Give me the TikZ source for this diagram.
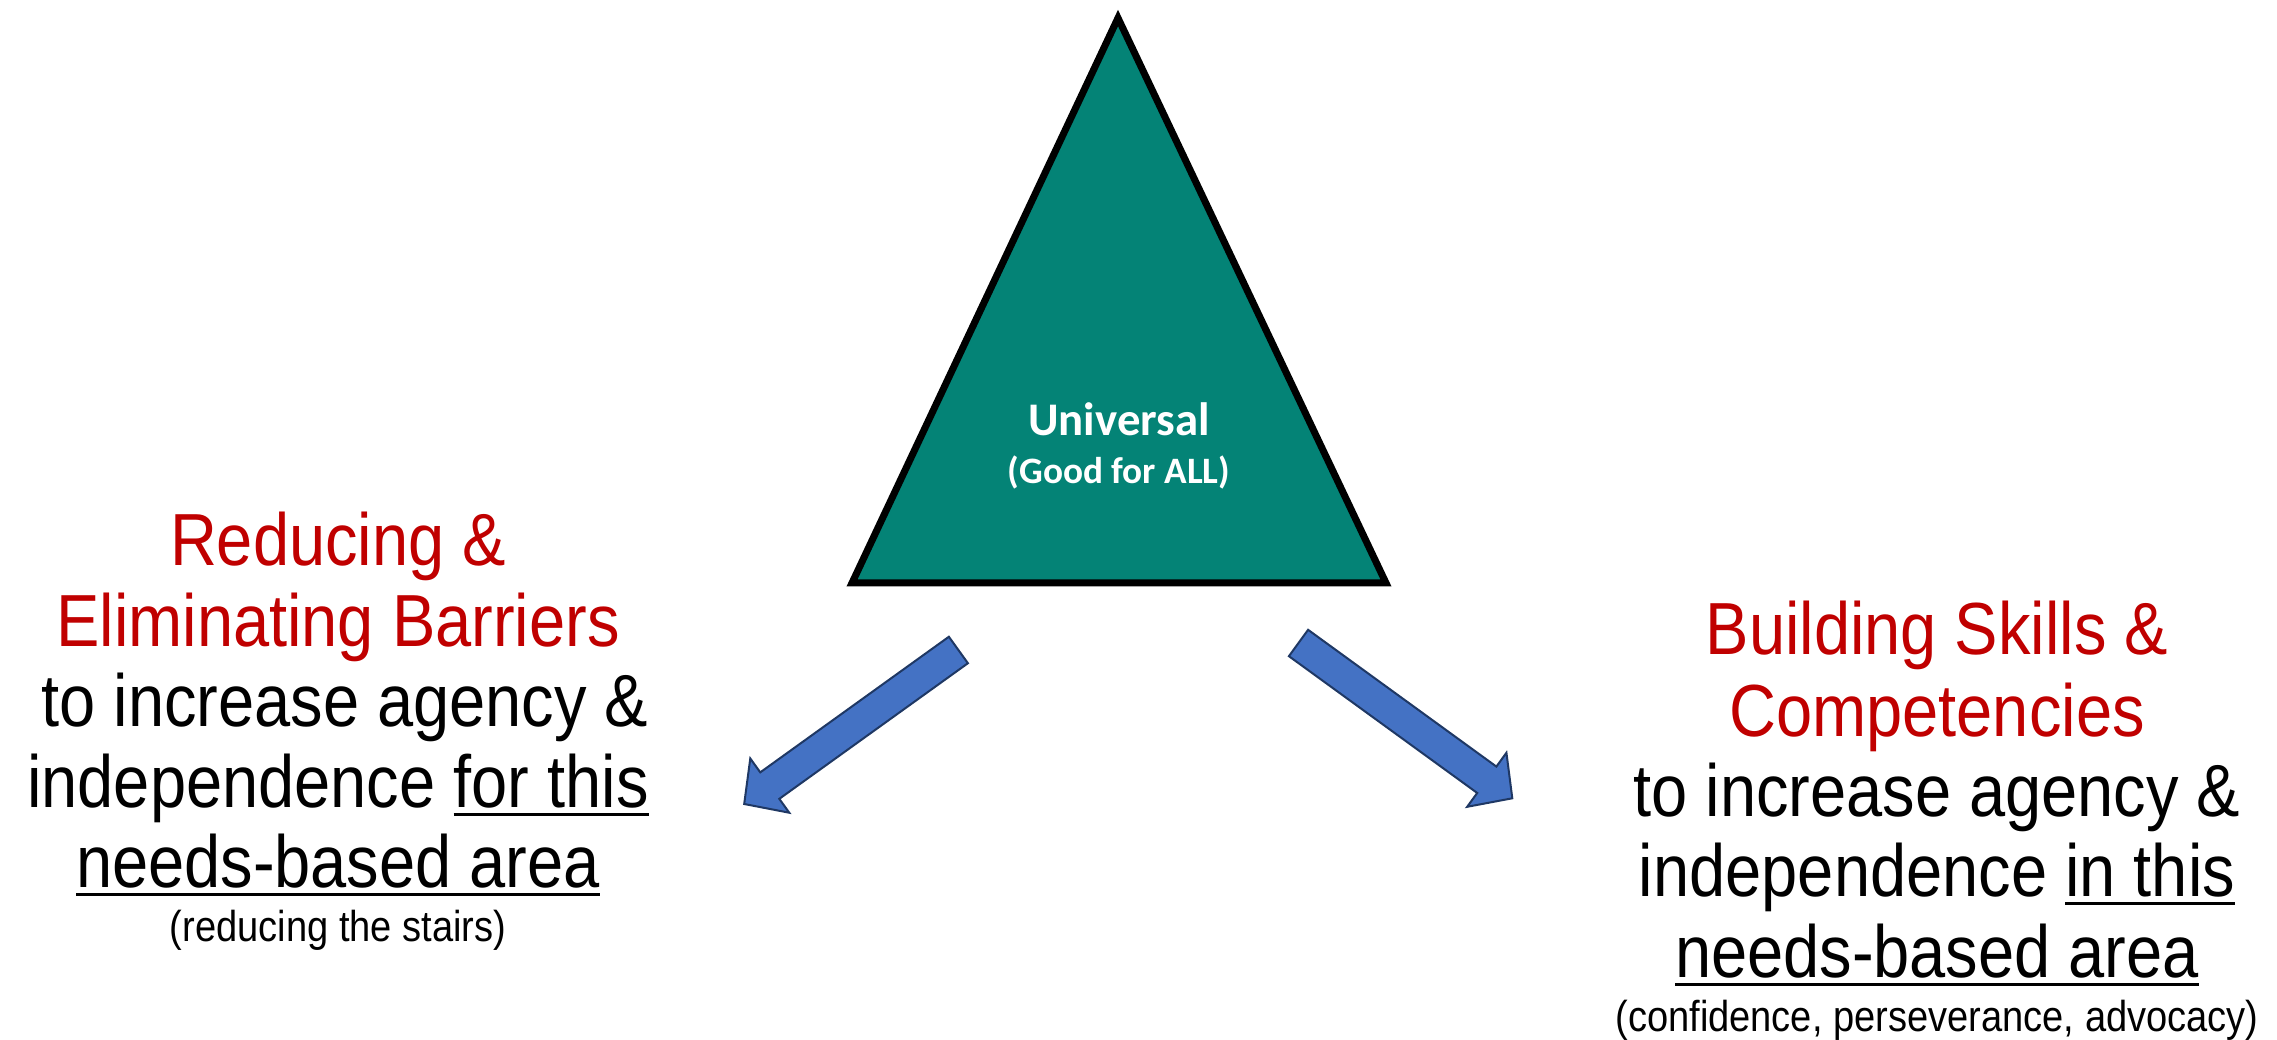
\documentclass[tikz,border=0pt]{standalone}
\usepackage{fontspec}
\setmainfont{Liberation Sans}
\newfontfamily\condfont[FakeStretch=0.88]{Liberation Sans}
\newfontfamily\calfont{Carlito}
\usetikzlibrary{calc}
\definecolor{barred}{RGB}{192,0,0}
\definecolor{teal1}{RGB}{4,131,118}
\definecolor{arrblue}{RGB}{68,114,196}
\definecolor{arredge}{RGB}{31,56,100}
\newcommand\myul[1]{\setbox0\hbox{#1}\rlap{\rule[-2.4pt]{\wd0}{0.85pt}}\box0}
\begin{document}
\begin{tikzpicture}[x=0.01cm,y=-0.01cm,
  bigline/.style={anchor=base, inner sep=0pt, font=\condfont\fontsize{21}{24}\selectfont},
  redline/.style={bigline, text=barred},
  smallline/.style={anchor=base, inner sep=0pt, font=\condfont\fontsize{12.3}{14}\selectfont},
  unitext/.style={anchor=base, inner sep=0pt, text=white},
  blockarrow/.style={fill=arrblue, draw=arredge, line width=0.02cm, line join=miter}]
\useasboundingbox (0,0) rectangle (2277,1040);
% triangle
\coordinate (TA) at (1118,18);
\coordinate (TL) at (852,583);
\coordinate (TR) at (1386,583);
\draw[fill=teal1, line width=0.07cm, line join=miter] (TL) -- (TA) -- (TR) -- cycle;
\node[unitext, font=\calfont\bfseries\fontsize{13.3}{15}\selectfont] (univ) at (1119,436) {Universal};
\node[unitext, font=\calfont\bfseries\fontsize{10.6}{12}\selectfont] (good) at (1119,484) {(Good for ALL)};
% left arrow
\coordinate (LT) at (958.4,650);
\coordinate (LP) at (744.2,804);
\coordinate (LH) at ($(LP)!0.315cm!(LT)$);
\draw[blockarrow] ($(LT)!0.163cm!90:(LP)$) -- ($(LH)!0.163cm!-90:(LT)$) -- ($(LH)!0.334cm!-90:(LT)$) -- (LP)
  -- ($(LH)!0.334cm!90:(LT)$) -- ($(LH)!0.163cm!90:(LT)$) -- ($(LT)!0.163cm!-90:(LP)$) -- cycle;
% right arrow
\coordinate (RT) at (1298.5,643);
\coordinate (RP) at (1512.3,798.3);
\coordinate (RH) at ($(RP)!0.315cm!(RT)$);
\draw[blockarrow] ($(RT)!0.163cm!90:(RP)$) -- ($(RH)!0.163cm!-90:(RT)$) -- ($(RH)!0.334cm!-90:(RT)$) -- (RP)
  -- ($(RH)!0.334cm!90:(RT)$) -- ($(RH)!0.163cm!90:(RT)$) -- ($(RT)!0.163cm!-90:(RP)$) -- cycle;
% left text
\node[redline] (l1) at (338,566) {Reducing \&};
\node[redline] (l2) at (338,647) {Eliminating Barriers};
\node[bigline] (l3) at (345,727) {to increase agency \&};
\node[bigline] (l4) at (338,808) {independence \myul{for this}};
\node[bigline] (l5) at (338,888) {\myul{needs-based area}};
\node[smallline] (l6) at (338,942) {(reducing the stairs)};
% right text
\node[redline] (r1) at (1937,655) {Building Skills \&};
\node[redline] (r2) at (1937,737) {Competencies};
\node[bigline] (r3) at (1937,817) {to increase agency \&};
\node[bigline] (r4) at (1937,897) {independence \myul{in this}};
\node[bigline] (r5) at (1937,978) {\myul{needs-based area}};
\node[smallline] (r6) at (1937,1032) {(confidence, perseverance, advocacy)};
\end{tikzpicture}
\end{document}
